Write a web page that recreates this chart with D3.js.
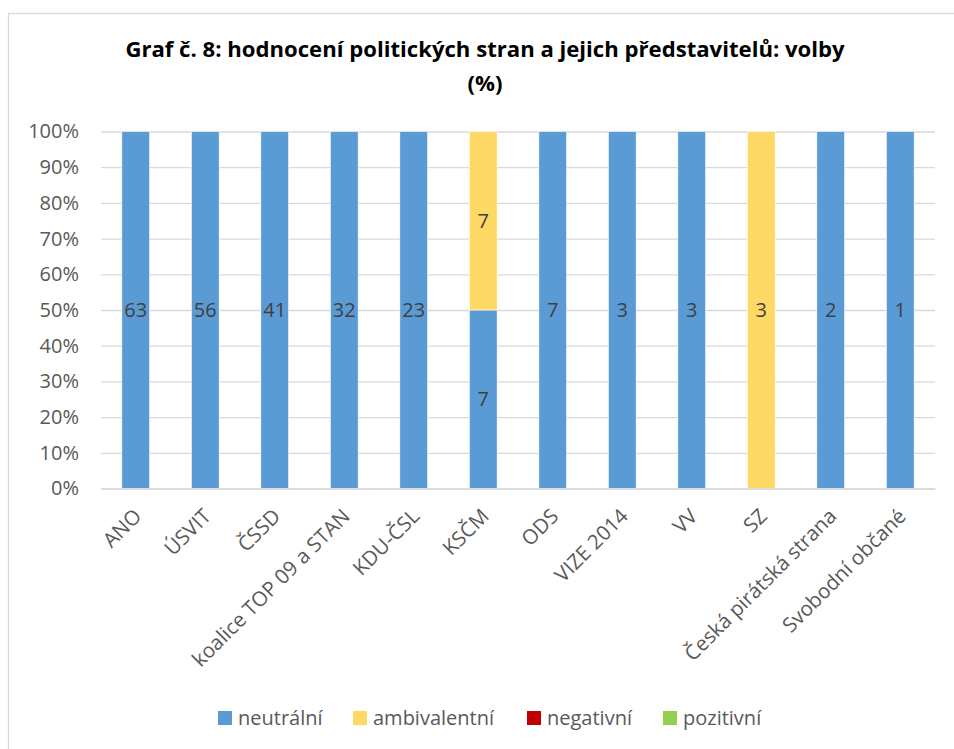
<!DOCTYPE html>
<html>
<head>
<meta charset="utf-8">
<script src="https://cdn.jsdelivr.net/npm/d3@7"></script>
<style>
  body { margin: 0; background: #fff; }
  text { font-family: "Open Sans", "Noto Sans", sans-serif; }
</style>
</head>
<body>
<div id="chart"></div>
<script>
// Hodnoceni stran - pocty zminek podle typu
const categories = ["ANO", "ÚSVIT", "ČSSD", "koalice TOP 09 a STAN", "KDU-ČSL", "KSČM",
  "ODS", "VIZE 2014", "VV", "SZ", "Česká pirátská strana", "Svobodní občané"];
const neutralni = [63, 56, 41, 32, 23, 7, 7, 3, 3, 0, 2, 1];
const ambivalentni = [0, 0, 0, 0, 0, 7, 0, 0, 0, 3, 0, 0];
const negativni = [0, 0, 0, 0, 0, 0, 0, 0, 0, 0, 0, 0];
const pozitivni = [0, 0, 0, 0, 0, 0, 0, 0, 0, 0, 0, 0];
const seriesNames = ["neutrální", "ambivalentní", "negativní", "pozitivní"];
const yTicks = [0, 0.1, 0.2, 0.3, 0.4, 0.5, 0.6, 0.7, 0.8, 0.9, 1];

const colors = ["#5B9BD5", "#FFD966", "#C00000", "#92D050"];
const width = 954, height = 749;
const margin = { top: 131.5, left: 101, right: 19, bottom: 260.5 };

const rows = categories.map((c, i) => ({
  cat: c,
  "neutrální": neutralni[i],
  "ambivalentní": ambivalentni[i],
  "negativní": negativni[i],
  "pozitivní": pozitivni[i],
}));

const stacked = d3.stack().keys(seriesNames).offset(d3.stackOffsetExpand)(rows);

const svg = d3.select("#chart").append("svg")
  .attr("width", width).attr("height", height);

// chart frame (only top and left edge visible)
svg.append("rect")
  .attr("x", 8.5).attr("y", 13.5)
  .attr("width", 1000).attr("height", 800)
  .attr("fill", "none").attr("stroke", "#D9D9D9").attr("stroke-width", 1.3);

// title, fitted to the width it has in the original
const title1 = svg.append("text")
  .attr("x", 485).attr("y", 57)
  .attr("text-anchor", "middle")
  .style("font-size", "20px").style("font-weight", "bold").attr("fill", "#000")
  .text("Graf č. 8: hodnocení politických stran a jejich představitelů: volby");
const titleSize = 20 * 720 / title1.node().getComputedTextLength();
title1.style("font-size", titleSize + "px");
svg.append("text")
  .attr("x", 485).attr("y", 91)
  .attr("text-anchor", "middle")
  .style("font-size", titleSize + "px").style("font-weight", "bold").attr("fill", "#000")
  .text("(%)");

const plotW = width - margin.left - margin.right;
const plotH = height - margin.top - margin.bottom;
const g = svg.append("g").attr("transform", `translate(${margin.left},${margin.top})`);

const x = d3.scaleBand().domain(categories).range([0, plotW]).paddingInner(0.6).paddingOuter(0.3);
const y = d3.scaleLinear().domain([0, 1]).range([plotH, 0]);

// gridlines
g.append("g")
  .call(d3.axisLeft(y).tickValues(yTicks).tickSize(-plotW).tickFormat(""))
  .call(s => s.select(".domain").remove())
  .call(s => s.selectAll("line").attr("stroke", "#D9D9D9").attr("stroke-width", 1.3));

// y labels
g.append("g")
  .call(d3.axisLeft(y).tickValues(yTicks).tickSize(0).tickPadding(22).tickFormat(d3.format(".0%")))
  .call(s => s.select(".domain").remove())
  .call(s => s.selectAll("text").attr("fill", "#595959").style("font-size", "20px"));

// bars
const layers = g.selectAll("g.layer").data(stacked).join("g")
  .attr("class", "layer").attr("fill", (d, i) => colors[i]);

layers.selectAll("rect").data(d => d).join("rect")
  .attr("x", d => x(d.data.cat))
  .attr("width", x.bandwidth())
  .attr("y", d => y(d[1]))
  .attr("height", d => y(d[0]) - y(d[1]))
  .attr("stroke", "#fff").attr("stroke-width", 0.6);

// data labels
layers.each(function (layer) {
  d3.select(this).selectAll("text.val")
    .data(layer.filter(d => d.data[layer.key] > 0))
    .join("text")
    .attr("class", "val")
    .attr("x", d => x(d.data.cat) + x.bandwidth() / 2)
    .attr("y", d => y((d[0] + d[1]) / 2))
    .attr("dy", "0.35em")
    .attr("text-anchor", "middle")
    .attr("fill", "#404040")
    .style("font-size", "20px")
    .text(d => d.data[layer.key]);
});

// x axis
const xAxis = g.append("g").attr("transform", `translate(0,${plotH})`)
  .call(d3.axisBottom(x).tickSize(0).tickPadding(0));
xAxis.select(".domain").attr("stroke", "#D9D9D9").attr("stroke-width", 1.3);
xAxis.selectAll("text")
  .attr("fill", "#595959").style("font-size", "20.5px")
  .attr("text-anchor", "end")
  .attr("dy", null).attr("y", 0)
  .attr("transform", "translate(7,29) rotate(-45)");

// legend
const legendX = [218, 353, 527, 663];
const legend = svg.append("g").selectAll("g").data(seriesNames).join("g")
  .attr("transform", (d, i) => `translate(${legendX[i]},711)`);
legend.append("rect").attr("width", 14).attr("height", 14).attr("fill", (d, i) => colors[i]);
legend.append("text").attr("x", 20).attr("y", 7).attr("dy", "0.35em")
  .attr("fill", "#595959").style("font-size", "20px").text(d => d);
</script>
</body>
</html>
